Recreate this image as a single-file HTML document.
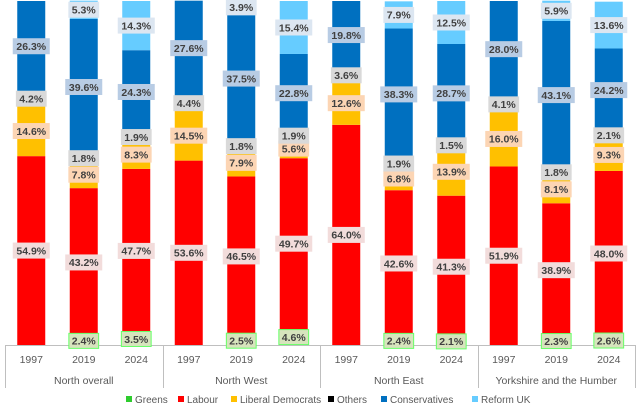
<!DOCTYPE html>
<html><head><meta charset="utf-8">
<style>
html,body{margin:0;padding:0;background:#fff;}
svg{display:block;font-family:"Liberation Sans",sans-serif;}
</style></head>
<body>
<svg id="chart" width="640" height="407" viewBox="0 0 640 407">
<g id="bars"></g>
<g id="axis"></g>
<g id="legend"></g>
</svg>
<script>
const groups = ["North overall","North West","North East","Yorkshire and the Humber"];
const years = ["1997","2019","2024"];
const series = ["Greens","Labour","Liberal Democrats","Others","Conservatives","Reform UK"];
const greens = [0,2.4,3.5, 0,2.5,4.6, 0,2.4,2.1, 0,2.3,2.6];
const labour = [54.9,43.2,47.7, 53.6,46.5,49.7, 64.0,42.6,41.3, 51.9,38.9,48.0];
const libdem = [14.6,7.8,8.3, 14.5,7.9,5.6, 12.6,6.8,13.9, 16.0,8.1,9.3];
const others = [4.2,1.8,1.9, 4.4,1.8,1.9, 3.6,1.9,1.5, 4.1,1.8,2.1];
const conservatives = [26.3,39.6,24.3, 27.6,37.5,22.8, 19.8,38.3,28.7, 28.0,43.1,24.2];
const reform = [0,5.3,14.3, 0,3.9,15.4, 0,7.9,12.5, 0,5.9,13.6];

const NS="http://www.w3.org/2000/svg";
const colors=["#2ecc2e","#ff0000","#ffc000","#000000","#0070c0","#66ccff"];
const labelBg=["#d7e4bd","#f2dcdb","#fcd5b4","#d9d9d9","#b8cce4","#dce6f1"];
const labelBorder=["#66ff66","#f2dcdb","#fcd5b4","#d9d9d9","#b8cce4","#dce6f1"];
const data=[greens,labour,libdem,others,conservatives,reform];
const left=5,right=635,base=345,scale=3.44,barW=28;
const n=groups.length*years.length;
const step=(right-left)/n;
const xC=i=>left+step*(i+0.5);
const yV=v=>base-v*scale;
function mk(tag,attrs,parent){const e=document.createElementNS(NS,tag);for(const k in attrs)e.setAttribute(k,attrs[k]);parent.appendChild(e);return e;}
const barsG=document.getElementById('bars');
const labelsG=mk('g',{},document.getElementById('chart'));
for(let i=0;i<n;i++){
  let cum=0;
  for(let s=0;s<series.length;s++){
    const v=data[s][i];
    if(v<=0){continue;}
    const y0=yV(cum),y1=yV(cum+v);
    const r=mk('rect',{x:xC(i)-barW/2,y:y1,width:barW,height:y0-y1,fill:colors[s]},barsG);
    
    
    const txt=v.toFixed(1)+'%';
    const cy=(y0+y1)/2;
    const w=txt.length*6.2+5;
    const lb=mk('rect',{x:xC(i)-w/2,y:cy-7.5,width:w,height:15,fill:labelBg[s],stroke:labelBorder[s],'stroke-width':1},labelsG);
    
    
    const t=mk('text',{x:xC(i),y:cy+3.8,'text-anchor':'middle','font-size':'10.5','font-weight':'bold',fill:'#404040'},labelsG);
    t.textContent=txt;
    
    
    cum+=v;
  }
}
const ax=document.getElementById('axis');
mk('line',{x1:left,x2:right,y1:base+0.5,y2:base+0.5,stroke:'#bfbfbf','stroke-width':1},ax);
for(let g=0;g<=groups.length;g++){
  const x=Math.round(left+g*step*years.length)+0.5;
  mk('line',{x1:x,x2:x,y1:base,y2:388,stroke:'#bfbfbf','stroke-width':1},ax);
}
for(let i=0;i<n;i++){
  const t=mk('text',{x:xC(i),y:363,'text-anchor':'middle','font-size':'10.5',fill:'#595959'},ax);
  t.textContent=years[i%years.length];
  
  
}
for(let g=0;g<groups.length;g++){
  const t=mk('text',{x:left+step*years.length*(g+0.5),y:384,'text-anchor':'middle','font-size':'10.5',fill:'#595959'},ax);
  t.textContent=groups[g];
  
  
}
const lg=document.getElementById('legend');
const lx=[126,178,231,328,381,472];
for(let s=0;s<series.length;s++){
  const e=mk('g',{},lg);
  
  
  mk('rect',{x:lx[s],y:396,width:6,height:6,fill:colors[s]},e);
  const t=mk('text',{x:lx[s]+9,y:403,'font-size':'10',fill:'#595959'},e);
  t.textContent=series[s];
}
</script>
</body></html>
